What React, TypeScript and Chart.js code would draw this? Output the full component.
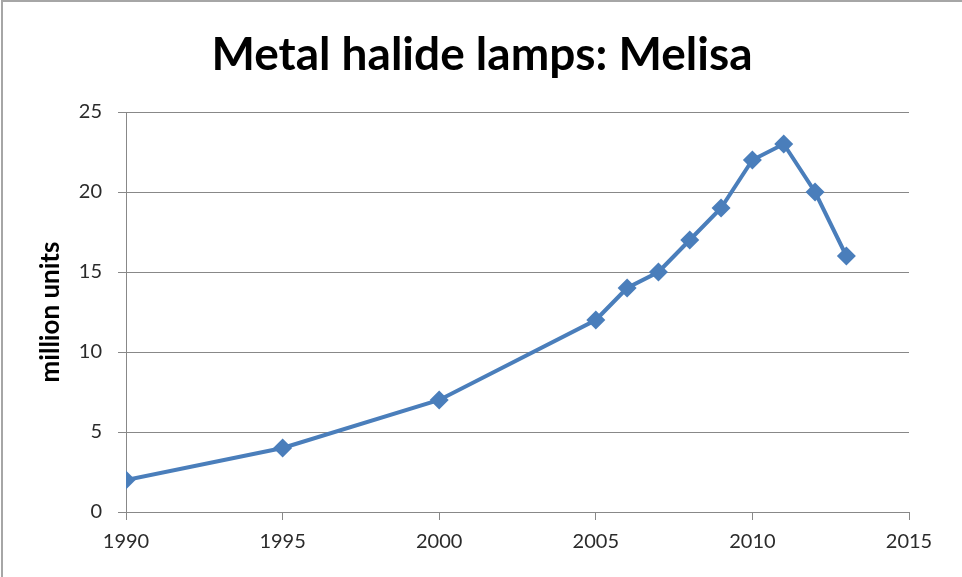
import React, { useEffect, useRef } from "react";
import { Chart, registerables } from "chart.js";

Chart.register(...registerables);

// Annual sales of metal halide lamps (million units)
const years = [1990, 1995, 2000, 2005, 2006, 2007, 2008, 2009, 2010, 2011, 2012, 2013];
const units = [2, 4, 7, 12, 14, 15, 17, 19, 22, 23, 20, 16];

const xTicks = [1990, 1995, 2000, 2005, 2010, 2015];
const yTicks = [0, 5, 10, 15, 20, 25];

const chartTitle = "Metal halide lamps: Melisa";
const yAxisTitle = "million units";

const FONT = "Lato, 'Open Sans', sans-serif";
const LINE_BLUE = "#4A7EBB";
const GRID_GREY = "#888888";
const TICK_TEXT = "#2b2b2b";

// Title centred on the whole canvas (the plot area is offset to the left)
const centredTitle = {
  id: "centredTitle",
  afterDraw(chart: any) {
    const { ctx, width } = chart;
    ctx.save();
    ctx.font = `bold 46px ${FONT}`;
    ctx.fillStyle = "#000000";
    ctx.textAlign = "center";
    ctx.textBaseline = "alphabetic";
    ctx.fillText(chartTitle, width / 2 + 1, 70);
    ctx.restore();
  },
};

export default function App() {
  const canvasRef = useRef<HTMLCanvasElement | null>(null);

  useEffect(() => {
    const canvas = canvasRef.current;
    if (!canvas) return;

    const chart = new Chart(canvas, {
      type: "line",
      data: {
        datasets: [
          {
            label: "Melisa",
            data: years.map((y, i) => ({ x: y, y: units[i] })),
            borderColor: LINE_BLUE,
            backgroundColor: LINE_BLUE,
            borderWidth: 4,
            pointStyle: "rectRot",
            pointRadius: 9.5,
            pointBorderWidth: 0,
            pointBackgroundColor: LINE_BLUE,
            tension: 0,
          },
        ],
      },
      options: {
        responsive: false,
        animation: false,
        devicePixelRatio: 1,
        layout: { padding: { left: 0, right: 53, top: 112, bottom: 0 } },
        plugins: {
          legend: { display: false },
          tooltip: { enabled: false },
          title: { display: false },
        },
        scales: {
          x: {
            type: "linear",
            min: 1990,
            max: 2015,
            afterBuildTicks: (scale: any) => {
              scale.ticks = xTicks.map((v) => ({ value: v }));
            },
            afterFit: (scale: any) => {
              scale.height = 65;
            },
            grid: {
              drawOnChartArea: false,
              color: GRID_GREY,
              tickColor: GRID_GREY,
              tickLength: 8,
            },
            border: { color: GRID_GREY, width: 1 },
            ticks: {
              color: TICK_TEXT,
              font: { family: FONT, size: 20 },
              padding: 10,
              maxRotation: 0,
              autoSkip: false,
              callback: (v: any) => String(v),
            },
          },
          y: {
            type: "linear",
            min: 0,
            max: 25,
            afterBuildTicks: (scale: any) => {
              scale.ticks = yTicks.map((v) => ({ value: v }));
            },
            afterFit: (scale: any) => {
              scale.width = 126;
            },
            grid: {
              color: GRID_GREY,
              tickColor: GRID_GREY,
              tickLength: 8,
            },
            border: { color: GRID_GREY, width: 1 },
            title: {
              display: true,
              text: yAxisTitle,
              color: "#000000",
              font: { family: FONT, size: 26, weight: "bold" },
              padding: { top: 35, bottom: 0 },
            },
            ticks: {
              color: TICK_TEXT,
              font: { family: FONT, size: 20 },
              padding: 16,
              callback: (v: any) => String(v),
            },
          },
        },
      },
      plugins: [centredTitle],
    });

    return () => chart.destroy();
  }, []);

  return (
    <div
      style={{
        position: "fixed",
        left: 0,
        top: 0,
        width: 962,
        height: 577,
        background: "#ffffff",
        overflow: "hidden",
      }}
    >
      <canvas ref={canvasRef} width={962} height={577} style={{ display: "block" }} />
      <div
        style={{
          position: "absolute",
          left: 1,
          top: 0,
          width: 961,
          height: 577,
          borderTop: "2px solid #a6a6a6",
          borderLeft: "2px solid #a6a6a6",
          boxSizing: "border-box",
          pointerEvents: "none",
        }}
      />
    </div>
  );
}
